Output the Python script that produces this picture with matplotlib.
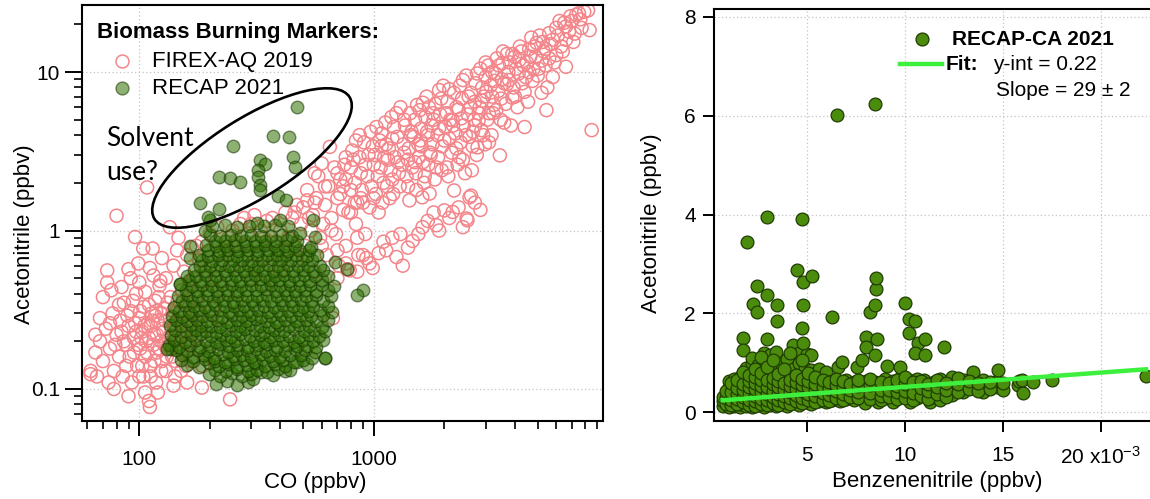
import numpy as np
import matplotlib
matplotlib.use("Agg")
import matplotlib.pyplot as plt
from matplotlib.patches import Ellipse
from matplotlib.ticker import FixedLocator, LogLocator, NullFormatter, FuncFormatter

plt.rcParams['font.family'] = ['Liberation Sans', 'DejaVu Sans']
plt.rcParams['mathtext.fontset'] = 'custom'
plt.rcParams['mathtext.rm'] = 'Liberation Sans'
plt.rcParams['mathtext.default'] = 'regular'

# ---- FIREX-AQ 2019: CO (ppbv), acetonitrile (ppbv) ----
firex_background = [
    (62, 0.13), (62, 0.124), (65, 0.17), (66, 0.12), (68, 0.2), (70, 0.15), (70, 0.38), (72, 0.24),
    (73, 0.47), (73, 0.56), (74, 0.11), (75, 0.18), (76, 0.42), (77, 0.3), (78, 0.13), (80, 0.22),
    (80, 1.24), (82, 0.16), (83, 0.27), (84, 0.44), (85, 0.12), (86, 0.35), (88, 0.19), (88, 0.14),
    (90, 0.25), (90, 0.57), (92, 0.31), (92, 0.5), (93, 0.11), (95, 0.17), (95, 0.21), (96, 0.91),
    (97, 0.4), (98, 0.14), (99, 0.62), (100, 0.28), (101, 0.18), (103, 0.23), (104, 0.12), (104, 0.77),
    (105, 0.33), (106, 0.16), (107, 0.2), (108, 1.87), (109, 0.26), (110, 0.084), (111, 0.077),
    (111, 0.58), (112, 0.14), (113, 0.3), (114, 0.77), (115, 0.19), (116, 0.22), (117, 0.36),
    (118, 0.11), (119, 0.17), (120, 0.27), (122, 0.45), (123, 0.48), (124, 0.2), (125, 0.15),
    (126, 0.24), (128, 0.32), (130, 0.13), (131, 0.18), (133, 0.21), (135, 0.28), (136, 0.38),
    (138, 0.16), (140, 0.25), (142, 0.12), (145, 0.75), (145, 0.2), (147, 0.9), (148, 0.3),
    (150, 0.17), (152, 0.42), (155, 0.23), (158, 0.14), (160, 0.35), (163, 0.27), (165, 0.19),
    (168, 0.78), (170, 0.5), (175, 0.31), (180, 0.22), (185, 0.102), (190, 0.6), (195, 0.4),
    (200, 0.16), (244, 0.086), (112, 0.25), (102, 0.21), (118, 0.31), (128, 0.19), (96, 0.26),
    (86, 0.2), (89, 0.29), (91, 0.16), (94, 0.36), (97, 0.23), (99, 0.19), (101, 0.31), (103, 0.14),
    (105, 0.25), (106, 0.41), (108, 0.17), (110, 0.21), (110, 0.34), (112, 0.12), (114, 0.27),
    (116, 0.15), (117, 0.29), (119, 0.22), (121, 0.38), (122, 0.18), (124, 0.13), (125, 0.3),
    (127, 0.23), (129, 0.27), (131, 0.16), (132, 0.35), (134, 0.19), (137, 0.24), (139, 0.31),
    (141, 0.2), (143, 0.15), (144, 0.27), (146, 0.36), (149, 0.22), (151, 0.13), (153, 0.18),
    (156, 0.3), (159, 0.25), (162, 0.2), (164, 0.45), (167, 0.15), (171, 0.24), (174, 0.38),
    (178, 0.18), (182, 0.3), (186, 0.14), (75, 0.26), (79, 0.19), (82, 0.34), (84, 0.23), (68, 0.28),
    (65, 0.22), (100, 0.12), (106, 0.095), (120, 0.095), (140, 0.105), (160, 0.11), (78, 0.1),
    (90, 0.09), (130, 0.5), (115, 0.52), (100, 0.47), (140, 0.6), (155, 0.55), (180, 0.65),
    (175, 0.8), (160, 0.7), (125, 0.67), (135, 1.05), (185, 0.85), (200, 0.95), (215, 1.05),
    (230, 0.75), (255, 0.8), (195, 0.25), (205, 0.32), (225, 0.28),
]

firex_middle = [
    (210, 0.5), (220, 0.7), (230, 0.4), (240, 0.9), (250, 0.6), (260, 0.35), (270, 1.1), (280, 0.8),
    (290, 0.96), (300, 0.5), (300, 1.1), (310, 1.25), (320, 0.7), (330, 1.0), (340, 0.45), (340, 0.9),
    (360, 0.85), (370, 1.2), (380, 0.6), (400, 1.0), (410, 0.75), (420, 1.3), (440, 0.9), (450, 1.2),
    (470, 0.65), (470, 1.45), (490, 1.1), (500, 1.4), (510, 0.8), (520, 1.8), (540, 1.0), (550, 1.25),
    (560, 0.55), (570, 1.6), (580, 2.2), (590, 0.9), (600, 2.65), (610, 1.1), (620, 1.45), (630, 0.7),
    (640, 1.9), (650, 3.37), (660, 1.2), (670, 0.28), (680, 2.5), (690, 0.95), (700, 1.6), (710, 0.6),
    (720, 2.1), (740, 1.35), (760, 0.8), (775, 0.57), (790, 0.56), (800, 1.8), (820, 2.8), (840, 1.1),
    (860, 0.7), (871, 4.0), (880, 2.3), (900, 1.5), (920, 0.95), (930, 0.67), (950, 3.0), (980, 1.9),
    (990, 0.58), (1000, 2.6), (1027, 4.5), (1050, 1.3), (1080, 3.4), (1100, 2.0), (1130, 0.75),
    (1150, 2.8), (1170, 1.6), (1200, 3.8), (1250, 5.5), (1280, 2.3), (1330, 0.6), (1350, 3.1),
    (1400, 1.9), (1420, 1.55), (1450, 4.2), (1465, 0.86), (1500, 2.7), (1550, 3.5), (1570, 5.75),
    (1610, 1.62), (1615, 1.05), (1620, 6.4), (1650, 2.2), (1700, 4.0), (1730, 1.71), (1750, 3.0),
    (1800, 5.0), (1850, 1.08), (1900, 7.7), (1950, 2.4), (2000, 1.34), (2050, 2.5), (2100, 3.8),
    (2170, 1.31), (2170, 4.96), (2200, 1.79), (2250, 6.0), (2320, 2.9), (2400, 8.9), (2490, 1.19),
    (2510, 1.16), (2560, 1.62), (2600, 1.66), (2650, 4.2), (2700, 6.5), (2770, 3.35), (2800, 4.96),
    (2900, 8.0), (3000, 9.3), (3100, 5.5), (3200, 7.0), (3330, 5.75), (3450, 2.98), (3540, 11.4),
    (3600, 8.5), (3780, 8.9), (3900, 6.9), (4000, 12.5), (4180, 11.9), (4400, 4.5), (4450, 9.3),
    (4600, 14.0), (4800, 10.5), (4950, 15.3), (5200, 7.4), (5450, 5.75), (5600, 17.6), (5800, 9.3),
    (6000, 12.8), (6300, 14.5), (6600, 10.8), (6600, 16), (6600, 19.4), (7000, 21), (7300, 23),
    (7500, 23.5), (8330, 18.4), (8500, 4.3),
    (250, 1.0), (280, 1.2), (310, 0.6), (350, 1.15), (400, 0.55), (430, 0.9), (460, 1.3), (500, 0.7),
    (530, 1.2), (560, 1.5), (600, 0.8), (620, 1.9), (660, 1.0), (700, 2.3), (700, 0.75), (740, 1.9),
    (760, 2.9), (800, 1.3), (830, 1.5), (850, 0.9), (560, 2.3), (520, 1.55),
]

firex_plume = [
    (720, 1.7), (750, 2.6), (780, 1.3), (810, 3.2), (830, 2.0), (850, 1.5), (870, 2.9), (890, 1.8),
    (910, 3.6), (940, 2.2), (960, 1.4), (970, 4.2), (1010, 3.0), (1020, 1.7), (1040, 2.2), (1060, 3.7),
    (1090, 1.5), (1110, 2.9), (1120, 4.8), (1140, 1.9), (1160, 3.3), (1180, 2.4), (1190, 5.2),
    (1210, 1.7), (1230, 2.9), (1260, 3.9), (1290, 1.9), (1300, 6.0), (1320, 2.6), (1360, 4.6),
    (1380, 2.2), (1410, 3.3), (1430, 5.5), (1460, 2.5), (1480, 3.9), (1520, 1.8), (1530, 6.2),
    (1560, 2.9), (1590, 4.4), (1600, 3.4), (1640, 2.0), (1660, 5.2), (1680, 7.0), (1710, 2.6),
    (1760, 4.6), (1780, 3.5), (1820, 2.1), (1830, 6.3), (1870, 4.0), (1880, 2.9), (1920, 5.4),
    (1960, 3.4), (1980, 8.2), (2020, 4.5), (2060, 6.5), (2080, 2.2), (2120, 5.0), (2150, 3.1),
    (2200, 7.4), (2230, 4.1), (2280, 2.6), (2300, 5.8), (2350, 3.6), (2380, 6.8), (2420, 4.6),
    (2450, 2.3), (2480, 9.5), (2520, 5.4), (2560, 3.9), (2600, 7.4), (2620, 2.4), (2680, 5.0),
    (2720, 8.5), (2750, 3.0), (2830, 6.0), (2850, 10.5), (2880, 4.3), (2950, 7.0), (2980, 3.5),
    (3050, 5.0), (3080, 11.0), (3150, 8.2), (3180, 4.0), (3250, 6.2), (3300, 9.8), (3350, 12.2),
    (3400, 7.6), (3480, 5.0), (3520, 9.0), (3650, 6.3), (3700, 13.0), (3750, 10.0), (3850, 4.6),
    (3950, 8.0), (4050, 10.5), (4100, 6.0), (4250, 13.5), (4300, 8.5), (4500, 11.5), (4550, 6.5),
    (4700, 16.5), (4750, 8.8), (4900, 12.5), (5050, 10.5), (5100, 17.0), (5300, 13.5), (5400, 11.0),
    (5500, 8.0), (5700, 15.0), (5900, 11.5), (6100, 17.0), (6200, 21.0), (6400, 13.5), (6800, 18.0),
    (7100, 15.5), (7700, 19.0), (7900, 24), (8200, 24.5),
    (760, 2.1), (800, 2.5), (840, 3.7), (880, 1.6), (920, 2.6), (990, 3.4), (1000, 1.6), (1070, 2.5),
    (1080, 4.1), (1130, 3.5), (1200, 2.1), (1220, 4.5), (1270, 2.7), (1340, 3.5), (1350, 5.0),
    (1400, 2.8), (1440, 4.0), (1500, 5.0), (1510, 2.3), (1580, 3.7), (1620, 2.7), (1690, 4.2),
    (1720, 6.0), (1740, 3.1), (1790, 5.5), (1850, 2.5), (1900, 4.4), (1940, 6.8), (2000, 3.7),
    (2050, 5.5), (2100, 7.8), (2180, 4.6), (2250, 3.3), (2330, 8.2), (2360, 5.1), (2400, 2.8),
    (2470, 4.0), (2540, 7.0), (2580, 6.0), (2640, 3.4), (2700, 4.6), (2760, 9.8), (2800, 5.5),
    (2900, 6.6), (2930, 4.0), (3000, 11.5), (3020, 7.5), (3100, 3.6), (3200, 10.0), (3230, 5.5),
    (3280, 8.8), (3420, 11.0), (3500, 6.8), (3560, 13.5), (3600, 4.8), (3700, 8.4), (3800, 11.5),
    (3900, 13.0), (4000, 7.0), (4150, 9.8), (4200, 14.5), (4350, 11.0), (4400, 7.5), (4600, 10.0),
    (4650, 12.5), (4850, 14.5), (5000, 9.5), (5200, 11.8), (5250, 15.5), (5400, 14.0), (5600, 12.2),
    (5800, 16.0), (6000, 19.0), (6500, 20.5), (6900, 22.5), (7200, 17.5), (7600, 21.5),
]

firex_lower = [
    (700, 0.5), (760, 0.62), (850, 0.55), (900, 0.7), (960, 0.62), (1050, 0.72), (1100, 0.85),
    (1200, 0.9), (1250, 0.68), (1300, 0.95), (1400, 0.78), (1550, 0.95), (1700, 1.15), (1800, 1.3),
    (1900, 1.0), (2100, 1.2), (2300, 1.4), (2400, 1.05), (2700, 1.5), (2850, 1.35),
]

# ---- RECAP 2021: CO (ppbv), acetonitrile (ppbv) ----
recap_core = [
    (212, 0.108), (236, 0.112), (262, 0.106), (290, 0.11), (305, 0.115),
    (198, 0.125), (222, 0.12), (248, 0.127), (275, 0.121), (300, 0.124), (332, 0.128), (372, 0.122), (420, 0.13),
    (210, 0.131), (235, 0.129), (262, 0.133), (290, 0.13), (318, 0.132), (350, 0.128), (390, 0.134), (440, 0.131),
    (160, 0.142), (180, 0.138), (198, 0.145), (218, 0.14), (240, 0.143), (262, 0.137), (288, 0.141),
    (315, 0.146), (345, 0.14), (380, 0.144), (420, 0.139), (470, 0.147), (520, 0.143),
    (150, 0.153), (170, 0.15), (190, 0.155), (210, 0.151), (232, 0.149), (255, 0.154), (280, 0.152),
    (308, 0.148), (338, 0.155), (372, 0.151), (410, 0.153), (455, 0.149), (500, 0.152),
    (136, 0.18), (152, 0.165), (170, 0.16), (188, 0.164), (208, 0.158), (228, 0.166), (250, 0.161),
    (275, 0.163), (300, 0.159), (330, 0.167), (362, 0.162), (398, 0.16), (440, 0.165), (490, 0.163),
    (545, 0.158), (618, 0.157),
    (143, 0.176), (160, 0.173), (178, 0.177), (197, 0.174), (217, 0.178), (238, 0.172), (262, 0.176),
    (288, 0.175), (316, 0.179), (346, 0.173), (380, 0.176), (418, 0.174), (462, 0.178), (510, 0.175),
    (560, 0.172),
    (134, 0.19), (148, 0.185), (165, 0.19), (182, 0.184), (200, 0.188), (220, 0.192), (242, 0.186),
    (265, 0.19), (292, 0.183), (320, 0.189), (352, 0.191), (388, 0.185), (428, 0.19), (472, 0.186),
    (520, 0.188), (570, 0.184),
    (141, 0.203), (157, 0.199), (174, 0.205), (192, 0.201), (212, 0.198), (234, 0.204), (257, 0.2),
    (283, 0.206), (310, 0.202), (340, 0.199), (375, 0.204), (412, 0.201), (455, 0.197), (500, 0.203),
    (550, 0.2), (610, 0.205),
    (136, 0.22), (150, 0.214), (166, 0.218), (184, 0.222), (203, 0.215), (224, 0.219), (246, 0.213),
    (270, 0.221), (298, 0.216), (328, 0.218), (360, 0.214), (396, 0.22), (436, 0.217), (480, 0.212),
    (530, 0.219), (585, 0.215),
    (142, 0.235), (158, 0.231), (175, 0.237), (193, 0.233), (213, 0.229), (234, 0.236), (258, 0.232),
    (283, 0.238), (311, 0.234), (342, 0.23), (376, 0.236), (414, 0.233), (456, 0.239), (502, 0.231),
    (555, 0.235), (620, 0.232),
    (135, 0.252), (150, 0.248), (166, 0.255), (183, 0.249), (202, 0.251), (222, 0.246), (245, 0.253),
    (270, 0.249), (296, 0.256), (326, 0.25), (358, 0.247), (394, 0.252), (434, 0.248), (478, 0.254),
    (528, 0.25), (600, 0.245),
    (144, 0.271), (160, 0.267), (177, 0.273), (195, 0.269), (215, 0.274), (236, 0.266), (260, 0.272),
    (286, 0.268), (315, 0.275), (347, 0.27), (382, 0.266), (420, 0.273), (464, 0.269), (512, 0.271),
    (570, 0.267), (640, 0.272),
    (138, 0.29), (152, 0.286), (168, 0.293), (186, 0.288), (205, 0.291), (226, 0.285), (248, 0.294),
    (274, 0.289), (300, 0.292), (332, 0.286), (365, 0.29), (402, 0.295), (442, 0.288), (488, 0.291),
    (540, 0.287), (610, 0.293),
    (148, 0.312), (163, 0.308), (180, 0.314), (199, 0.309), (220, 0.315), (242, 0.307), (266, 0.313),
    (292, 0.31), (322, 0.316), (355, 0.308), (390, 0.312), (430, 0.309), (475, 0.314), (525, 0.31),
    (590, 0.313), (665, 0.308),
    (141, 0.33), (156, 0.338), (172, 0.334), (190, 0.331), (210, 0.339), (231, 0.333), (254, 0.336),
    (280, 0.332), (308, 0.337), (340, 0.334), (374, 0.33), (412, 0.338), (454, 0.335), (500, 0.331),
    (552, 0.336), (640, 0.333),
    (152, 0.361), (168, 0.357), (186, 0.364), (206, 0.358), (227, 0.362), (250, 0.356), (275, 0.363),
    (302, 0.359), (333, 0.365), (366, 0.357), (403, 0.362), (444, 0.358), (490, 0.364), (540, 0.36),
    (610, 0.357),
    (146, 0.385), (162, 0.392), (178, 0.388), (196, 0.391), (216, 0.386), (238, 0.39), (262, 0.393),
    (288, 0.387), (318, 0.389), (350, 0.392), (386, 0.386), (425, 0.39), (468, 0.394), (516, 0.388),
    (570, 0.391), (660, 0.386),
    (158, 0.421), (176, 0.416), (194, 0.424), (214, 0.418), (236, 0.422), (260, 0.415), (286, 0.423),
    (315, 0.419), (346, 0.425), (382, 0.417), (420, 0.421), (462, 0.418), (510, 0.424), (565, 0.416),
    (640, 0.42),
    (149, 0.46), (168, 0.448), (185, 0.452), (204, 0.446), (225, 0.45), (248, 0.455), (272, 0.447),
    (300, 0.451), (330, 0.449), (364, 0.453), (400, 0.446), (440, 0.452), (486, 0.448), (535, 0.45),
    (600, 0.455), (680, 0.447),
    (163, 0.487), (182, 0.481), (202, 0.49), (222, 0.483), (245, 0.488), (270, 0.48), (297, 0.486),
    (327, 0.492), (360, 0.484), (396, 0.489), (436, 0.482), (480, 0.487), (530, 0.483), (600, 0.49),
    (160, 0.515), (175, 0.52), (192, 0.525), (212, 0.518), (234, 0.522), (258, 0.516), (284, 0.521),
    (312, 0.524), (344, 0.517), (378, 0.52), (416, 0.523), (458, 0.518), (505, 0.521), (560, 0.516),
    (640, 0.52),
    (172, 0.562), (190, 0.556), (210, 0.565), (231, 0.558), (254, 0.563), (280, 0.555), (308, 0.561),
    (338, 0.567), (372, 0.557), (410, 0.562), (452, 0.559), (498, 0.564), (550, 0.556), (610, 0.56),
    (165, 0.67), (182, 0.6), (200, 0.595), (220, 0.603), (242, 0.598), (266, 0.6), (292, 0.605),
    (322, 0.597), (355, 0.602), (390, 0.599), (430, 0.604), (475, 0.598), (525, 0.601), (590, 0.596),
    (186, 0.652), (205, 0.645), (226, 0.655), (250, 0.648), (275, 0.653), (302, 0.646), (333, 0.651),
    (367, 0.657), (404, 0.647), (445, 0.652), (492, 0.649), (545, 0.654),
    (180, 0.7), (196, 0.695), (216, 0.703), (238, 0.698), (262, 0.694), (288, 0.701), (318, 0.697),
    (350, 0.702), (385, 0.696), (424, 0.699), (468, 0.703), (520, 0.695), (575, 0.7),
    (196, 0.752), (218, 0.745), (240, 0.756), (265, 0.748), (292, 0.753), (322, 0.746), (355, 0.751),
    (392, 0.757), (432, 0.747), (478, 0.752), (530, 0.749),
    (165, 0.8), (192, 0.805), (212, 0.798), (234, 0.803), (258, 0.797), (285, 0.802), (314, 0.799),
    (345, 0.806), (380, 0.8), (420, 0.797), (462, 0.803), (540, 0.79),
    (210, 0.862), (232, 0.855), (256, 0.866), (283, 0.858), (312, 0.863), (345, 0.856), (382, 0.861),
    (425, 0.867), (470, 0.857),
    (200, 0.935), (222, 0.928), (246, 0.932), (272, 0.926), (300, 0.934), (330, 0.93), (365, 0.927),
    (405, 0.933), (450, 0.929), (561, 0.91), (484, 0.96),
    (191, 1.0), (205, 1.07), (232, 1.08), (262, 1.06), (295, 1.075), (340, 1.07), (380, 1.08),
    (432, 1.065), (552, 1.16), (398, 1.16), (317, 1.12), (200, 1.16),
]

recap_outliers = [
    (473, 6.03), (373, 3.95), (436, 3.9), (252, 3.42), (454, 2.91), (461, 2.52), (327, 2.77),
    (344, 2.64), (322, 2.4), (322, 2.17), (327, 1.93), (327, 1.79), (218, 2.17), (244, 2.15),
    (269, 2.02), (182, 1.49), (218, 1.37), (197, 1.21), (391, 1.66), (424, 1.55), (767, 0.575),
    (682, 0.63), (899, 0.42), (845, 0.39), (618, 0.157), (149, 0.46), (131, 0.18),
]

# ---- RECAP-CA 2021: benzenenitrile (pptv), acetonitrile (ppbv) ----
recap_ca = [
    (0.7, 0.12), (0.7, 0.22), (0.7, 0.3),
    (1.0, 0.1), (1.0, 0.18), (1.0, 0.26), (1.0, 0.35), (1.0, 0.5), (1.0, 0.62),
    (1.3, 0.12), (1.3, 0.2), (1.3, 0.3), (1.3, 0.42), (1.3, 0.55), (1.3, 0.68),
    (1.6, 0.1), (1.6, 0.16), (1.6, 0.25), (1.6, 0.38), (1.6, 0.5), (1.6, 0.62), (1.6, 0.72),
    (1.76, 1.51), (1.72, 1.25),
    (1.9, 0.13), (1.9, 0.22), (1.9, 0.32), (1.9, 0.45), (1.9, 0.58), (1.9, 0.7), (1.9, 0.9), (1.94, 3.44),
    (2.2, 0.1), (2.2, 0.18), (2.2, 0.28), (2.2, 0.4), (2.2, 0.52), (2.2, 0.65), (2.2, 0.8), (2.2, 1.0),
    (2.2, 1.1), (2.27, 2.18),
    (2.5, 0.14), (2.5, 0.24), (2.5, 0.35), (2.5, 0.48), (2.5, 0.6), (2.5, 0.75), (2.5, 0.95),
    (2.44, 2.55), (2.47, 2.03),
    (2.8, 0.11), (2.8, 0.2), (2.8, 0.3), (2.8, 0.43), (2.8, 0.56), (2.8, 0.7), (2.8, 0.85), (2.8, 1.05),
    (2.8, 1.2), (2.96, 3.94), (2.95, 2.38), (2.95, 1.47),
    (3.1, 0.15), (3.1, 0.26), (3.1, 0.38), (3.1, 0.5), (3.1, 0.63), (3.1, 0.8), (3.1, 0.98), (3.1, 1.15),
    (3.4, 0.12), (3.4, 0.22), (3.4, 0.33), (3.4, 0.45), (3.4, 0.58), (3.4, 0.72), (3.4, 0.9), (3.4, 1.1),
    (3.4, 1.22), (3.46, 2.16), (3.46, 1.85),
    (3.7, 0.16), (3.7, 0.28), (3.7, 0.4), (3.7, 0.52), (3.7, 0.66), (3.7, 0.82), (3.7, 1.0),
    (4.0, 0.13), (4.0, 0.23), (4.0, 0.35), (4.0, 0.48), (4.0, 0.6), (4.0, 0.75), (4.0, 0.95), (4.0, 1.08),
    (4.3, 0.18), (4.3, 0.3), (4.3, 0.42), (4.3, 0.55), (4.3, 0.7), (4.3, 0.88), (4.3, 1.35),
    (4.6, 0.15), (4.6, 0.25), (4.6, 0.37), (4.6, 0.5), (4.6, 0.62), (4.6, 0.8), (4.6, 1.0), (4.6, 1.2),
    (4.48, 2.87), (4.75, 3.91),
    (4.9, 0.2), (4.9, 0.32), (4.9, 0.45), (4.9, 0.58), (4.9, 0.72), (4.9, 0.9), (4.99, 1.17), (4.82, 1.39),
    (4.79, 2.63), (4.79, 2.16), (4.77, 1.71),
    (5.2, 0.17), (5.2, 0.28), (5.2, 0.4), (5.2, 0.52), (5.2, 0.66), (5.2, 0.85), (5.2, 1.15), (5.24, 2.75),
    (5.6, 0.22), (5.6, 0.34), (5.6, 0.46), (5.6, 0.6), (5.6, 0.78), (5.6, 0.88),
    (6.0, 0.2), (6.0, 0.3), (6.0, 0.42), (6.0, 0.55), (6.0, 0.7), (6.0, 0.82),
    (6.3, 0.25), (6.3, 0.37), (6.3, 0.5), (6.3, 0.62), (6.26, 1.93), (6.54, 6.02),
    (6.7, 0.22), (6.7, 0.33), (6.7, 0.45), (6.7, 0.58), (6.6, 0.92), (6.77, 1.02),
    (7.0, 0.27), (7.0, 0.4), (7.0, 0.52), (7.0, 0.65),
    (7.4, 0.24), (7.4, 0.36), (7.4, 0.48), (7.4, 0.6), (7.54, 0.92),
    (7.8, 0.3), (7.8, 0.42), (7.8, 0.55), (7.8, 1.05),
    (7.96, 0.19), (8.0, 0.5), (8.0, 0.62), (8.02, 1.52), (8.02, 1.31), (8.22, 2.03),
    (8.64, 0.21), (8.5, 0.35), (8.5, 0.47), (8.5, 0.6), (8.47, 1.15), (8.59, 1.47), (8.47, 2.16),
    (8.51, 2.5), (8.52, 2.72), (8.47, 6.24),
    (9.07, 0.93), (9.0, 0.28), (9.0, 0.4), (9.0, 0.55), (9.0, 0.68),
    (9.41, 0.21), (9.4, 0.34), (9.4, 0.48), (9.4, 0.62),
    (9.75, 0.3), (9.75, 0.45), (9.75, 0.58), (9.75, 0.7), (9.75, 0.92),
    (10.26, 0.21), (10.2, 0.35), (10.2, 0.5), (10.2, 0.64), (10.0, 2.21), (10.22, 1.89), (10.22, 1.6),
    (10.6, 0.28), (10.6, 0.42), (10.6, 0.56), (10.6, 0.68), (10.5, 1.85), (10.68, 1.39), (10.5, 1.19),
    (11.28, 0.21), (11.0, 0.38), (11.0, 0.52), (11.0, 0.65), (11.03, 1.47), (11.03, 1.15),
    (11.5, 0.3), (11.5, 0.45), (11.5, 0.6),
    (11.79, 0.24), (11.8, 0.4), (11.8, 0.55), (11.8, 0.68), (12.0, 1.31),
    (12.4, 0.35), (12.4, 0.5), (12.4, 0.62), (12.4, 0.72),
    (12.98, 0.41), (13.0, 0.55), (13.0, 0.66),
    (13.5, 0.48), (13.5, 0.6), (13.49, 0.81),
    (14.0, 0.41), (14.0, 0.56), (14.0, 0.66),
    (14.7, 0.5), (14.7, 0.62), (14.73, 0.85),
    (14.99, 0.44), (15.0, 0.58), (15.79, 0.55), (15.8, 0.62), (16.04, 0.38), (16.0, 0.65),
    (16.55, 0.61), (17.5, 0.65), (22.3, 0.73),
    (0.85, 0.16), (0.85, 0.28), (0.85, 0.42), (1.15, 0.14), (1.15, 0.24), (1.15, 0.4), (1.15, 0.58),
    (1.45, 0.16), (1.45, 0.26), (1.45, 0.36), (1.45, 0.48), (1.45, 0.65), (1.75, 0.2), (1.75, 0.3),
    (1.75, 0.44), (1.75, 0.56), (1.75, 0.82), (2.05, 0.15), (2.05, 0.25), (2.05, 0.36), (2.05, 0.5),
    (2.05, 0.62), (2.05, 0.75), (2.35, 0.12), (2.35, 0.22), (2.35, 0.33), (2.35, 0.46), (2.35, 0.58),
    (2.35, 0.72), (2.35, 0.88), (2.65, 0.17), (2.65, 0.27), (2.65, 0.4), (2.65, 0.52), (2.65, 0.66),
    (2.65, 0.8), (2.65, 1.12), (2.95, 0.14), (2.95, 0.24), (2.95, 0.36), (2.95, 0.5), (2.95, 0.64),
    (2.95, 0.92), (3.25, 0.19), (3.25, 0.3), (3.25, 0.43), (3.25, 0.56), (3.25, 0.7), (3.25, 1.05),
    (3.55, 0.15), (3.55, 0.25), (3.55, 0.37), (3.55, 0.5), (3.55, 0.62), (3.55, 0.78), (3.85, 0.2),
    (3.85, 0.32), (3.85, 0.45), (3.85, 0.58), (3.85, 0.88), (4.15, 0.17), (4.15, 0.28), (4.15, 0.4),
    (4.15, 0.52), (4.15, 0.66), (4.15, 1.2), (4.45, 0.22), (4.45, 0.34), (4.45, 0.46), (4.45, 0.6),
    (4.45, 0.75), (4.75, 0.18), (4.75, 0.28), (4.75, 0.42), (4.75, 0.55), (4.75, 0.68), (4.75, 1.05),
    (5.05, 0.24), (5.05, 0.36), (5.05, 0.5), (5.05, 0.62), (5.05, 0.8), (5.4, 0.2), (5.4, 0.32),
    (5.4, 0.45), (5.4, 0.56), (5.4, 0.72), (5.8, 0.25), (5.8, 0.38), (5.8, 0.5), (5.8, 0.64),
    (6.15, 0.22), (6.15, 0.34), (6.15, 0.47), (6.15, 0.6), (6.5, 0.28), (6.5, 0.42), (6.5, 0.55),
    (6.5, 0.68), (6.85, 0.25), (6.85, 0.37), (6.85, 0.5), (6.85, 0.62), (7.2, 0.3), (7.2, 0.44),
    (7.2, 0.56), (7.6, 0.28), (7.6, 0.4), (7.6, 0.52), (7.6, 0.64), (8.2, 0.26), (8.2, 0.38),
    (8.2, 0.55), (8.2, 0.68), (8.8, 0.24), (8.8, 0.33), (8.8, 0.45), (8.8, 0.6), (9.2, 0.3),
    (9.2, 0.44), (9.2, 0.58), (9.6, 0.26), (9.6, 0.4), (9.6, 0.53), (9.6, 0.66), (10.0, 0.28),
    (10.0, 0.43), (10.0, 0.57), (10.0, 0.72), (10.4, 0.25), (10.4, 0.38), (10.4, 0.6), (10.8, 0.32),
    (10.8, 0.48), (10.8, 0.62), (11.2, 0.27), (11.2, 0.42), (11.2, 0.57), (11.65, 0.36), (11.65, 0.5),
    (11.65, 0.64), (12.1, 0.3), (12.1, 0.45), (12.1, 0.58), (12.7, 0.4), (12.7, 0.56), (12.7, 0.7),
    (13.25, 0.46), (13.25, 0.62), (13.75, 0.43), (13.75, 0.58), (14.35, 0.47), (14.35, 0.6),
]

# linear fit through RECAP-CA points
fit_intercept = 0.22   # ppbv
fit_slope = 29         # ppbv / ppbv

firex = np.array(firex_background + firex_middle + firex_plume + firex_lower)
recap = np.array(recap_core + recap_outliers)
ca = np.array(recap_ca)
ca_x = ca[:, 0] * 1e-3   # pptv -> ppbv
ca_y = ca[:, 1]

pink = '#f4868b'
recap_face, recap_edge = '#2f7200', '#173300'
ca_face, ca_edge = '#4c8c0c', '#1f3d02'
fit_color = '#3df03d'

fig = plt.figure(figsize=(11.5, 4.99), dpi=100)
ax1 = fig.add_axes([82 / 1150, 78 / 499, 521 / 1150, 416 / 499])
ax2 = fig.add_axes([714 / 1150, 78 / 499, 439 / 1150, 412 / 499])

grid_kw = dict(linestyle=(0, (1, 2)), color='#c4c4c4', linewidth=0.9)

# ---------------- left: acetonitrile vs CO ----------------
ax1.scatter(firex[:, 0], firex[:, 1], s=88, facecolors='none', edgecolors=pink,
            linewidths=1.1, zorder=2)
ax1.scatter(recap[:, 0], recap[:, 1], s=82, facecolor=recap_face, edgecolor=recap_edge,
            linewidths=1.0, alpha=0.55, zorder=3)

ax1.set_xscale('log')
ax1.set_yscale('log')
ax1.xaxis.set_major_locator(FixedLocator([100, 1000]))
ax1.yaxis.set_major_locator(FixedLocator([0.1, 1, 10]))
ax1.xaxis.set_minor_locator(LogLocator(base=10, subs=np.arange(2, 10), numticks=20))
ax1.yaxis.set_minor_locator(LogLocator(base=10, subs=np.arange(2, 10), numticks=20))
fmt = FuncFormatter(lambda v, p: f'{v:g}')
ax1.xaxis.set_major_formatter(fmt)
ax1.yaxis.set_major_formatter(fmt)
ax1.xaxis.set_minor_formatter(NullFormatter())
ax1.yaxis.set_minor_formatter(NullFormatter())
ax1.set_xlim(57, 9500)
ax1.set_ylim(0.0628, 26.5)
ax1.set_axisbelow(True)
ax1.grid(True, which='major', **grid_kw)
ax1.tick_params(axis='x', which='major', direction='out', length=11, width=1.4, labelsize=15, pad=10)
ax1.tick_params(axis='y', which='major', direction='out', length=12, width=1.4, labelsize=15, pad=4)
ax1.tick_params(which='minor', direction='out', length=6, width=1.2)
for sp in ax1.spines.values():
    sp.set_linewidth(1.5)

ax1.set_xlabel('CO (ppbv)', fontsize=16)
ax1.xaxis.set_label_coords(0.447, -0.122)
ax1.set_ylabel('Acetonitrile (ppbv)', fontsize=16)
ax1.yaxis.set_label_coords(-0.09, 0.45)

ax1.text(0.029, 0.933, 'Biomass Burning Markers:', transform=ax1.transAxes, fontsize=16,
         fontweight='bold', va='center', ha='left')
ax1.plot([0.0768], [0.865], 'o', ms=9.3, mfc='none', mec=pink, mew=1.1,
         transform=ax1.transAxes, clip_on=False)
ax1.text(0.134, 0.865, 'FIREX-AQ 2019', transform=ax1.transAxes, fontsize=16, va='center')
ax1.plot([0.0768], [0.800], 'o', ms=9.3, mfc=recap_face, mec=recap_edge, mew=1.0, alpha=0.55,
         transform=ax1.transAxes, clip_on=False)
ax1.text(0.134, 0.800, 'RECAP 2021', transform=ax1.transAxes, fontsize=16, va='center')

ax1.text(0.046, 0.661, 'Solvent', transform=ax1.transAxes, fontsize=19, family='Lato',
         va='baseline')
ax1.text(0.046, 0.579, 'use?', transform=ax1.transAxes, fontsize=19, family='Lato',
         va='baseline')
fig.add_artist(Ellipse((2.52, 3.41), 2.30, 0.80, angle=32, transform=fig.dpi_scale_trans,
                       fill=False, edgecolor='black', linewidth=1.9))

# ---------------- right: acetonitrile vs benzenenitrile ----------------
ax2.scatter(ca_x, ca_y, s=85, facecolor=ca_face, edgecolor=ca_edge, linewidths=0.9, zorder=3)
fit_x = np.array([ca_x.min(), ca_x.max()])
ax2.plot(fit_x, fit_intercept + fit_slope * fit_x, color=fit_color, linewidth=3.2, zorder=4)

ax2.set_xlim(0.26e-3, 22.66e-3)
ax2.set_ylim(-0.18, 8.16)
ax2.set_xticks([0.005, 0.010, 0.015, 0.020])
ax2.set_xticklabels(['5', '10', '15', '20 x10$^{-3}$'])
ax2.set_yticks([0, 2, 4, 6, 8])
ax2.set_axisbelow(True)
ax2.grid(True, **grid_kw)
ax2.tick_params(axis='x', direction='out', length=8, width=1.4, labelsize=15, pad=10)
ax2.tick_params(axis='y', direction='out', length=8, width=1.4, labelsize=15, pad=5)
for sp in ax2.spines.values():
    sp.set_linewidth(1.5)
ax2.set_xlabel('Benzenenitrile (ppbv)', fontsize=16)
ax2.xaxis.set_label_coords(0.509, -0.121)
ax2.set_ylabel('Acetonitrile (ppbv)', fontsize=16)
ax2.yaxis.set_label_coords(-0.118, 0.48)

ax2.plot([0.474], [0.927], 'o', ms=9.3, mfc=ca_face, mec=ca_edge, mew=0.9,
         transform=ax2.transAxes, clip_on=False)
ax2.text(0.542, 0.927, 'RECAP-CA 2021', transform=ax2.transAxes, fontsize=15,
         fontweight='bold', va='center')
ax2.plot([0.424, 0.519], [0.8665, 0.8665], color=fit_color, linewidth=3.2,
         transform=ax2.transAxes, clip_on=False)
ax2.text(0.528, 0.8665, 'Fit:', transform=ax2.transAxes, fontsize=15, fontweight='bold',
         va='center')
ax2.text(0.636, 0.8665, f'y-int = {fit_intercept:.2f}', transform=ax2.transAxes, fontsize=15,
         va='center')
ax2.text(0.642, 0.803, f'Slope = {fit_slope} \u00b1 2', transform=ax2.transAxes, fontsize=15,
         va='center')

fig.savefig('out.png', dpi=100)
